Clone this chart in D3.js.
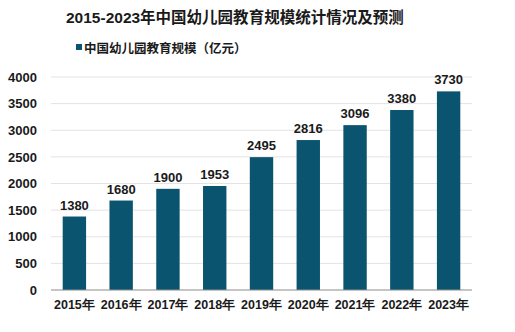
<!DOCTYPE html>
<html>
<head>
<meta charset="utf-8">
<script src="https://cdn.jsdelivr.net/npm/d3@7"></script>
<style>
  html, body { margin: 0; padding: 0; background: #fff; }
  svg { display: block; font-family: "Liberation Sans", Arial, "Noto Sans CJK SC", sans-serif; }
</style>
</head>
<body>
<svg id="chart" width="515" height="332"></svg>
<script>
// Kindergarten education market size, 2015-2023 (100 million yuan)
const years = ["2015年", "2016年", "2017年", "2018年", "2019年", "2020年", "2021年", "2022年", "2023年"];
const scale = [1380, 1680, 1900, 1953, 2495, 2816, 3096, 3380, 3730];
const yTicks = [0, 500, 1000, 1500, 2000, 2500, 3000, 3500, 4000];
const titleText = "2015-2023年中国幼儿园教育规模统计情况及预测";
const seriesName = "中国幼儿园教育规模（亿元）";

const barColor = "#0b5470";
const textColor = "#1a1a1a";

const svg = d3.select("#chart");
const margin = { left: 51, right: 43, top: 77, bottom: 42 };
const W = 515, H = 332;

const x = d3.scaleBand()
  .domain(years)
  .range([margin.left, W - margin.right])
  .paddingInner(0.5)
  .paddingOuter(0.25);

const y = d3.scaleLinear()
  .domain([0, 4000])
  .range([H - margin.bottom, margin.top]);

// Title
svg.append("text")
  .attr("x", 66).attr("y", 23)
  .attr("font-size", 15.5).attr("font-weight", "bold")
  .attr("fill", textColor)
  .text(titleText);

// Legend
svg.append("rect")
  .attr("x", 76).attr("y", 44).attr("width", 6).attr("height", 6)
  .attr("fill", barColor);
svg.append("text")
  .attr("x", 84).attr("y", 52.5)
  .attr("font-size", 12.5).attr("font-weight", "bold")
  .attr("fill", textColor)
  .text(seriesName);

// Gridlines
svg.append("g")
  .selectAll("line")
  .data(yTicks.filter(d => d > 0))
  .join("line")
  .attr("x1", margin.left).attr("x2", W - margin.right)
  .attr("y1", d => y(d)).attr("y2", d => y(d))
  .attr("stroke", "#e3e3e3").attr("stroke-width", 1);

// Y axis labels
const yAxis = svg.append("g")
  .attr("transform", `translate(37,0)`)
  .call(d3.axisLeft(y).tickValues(yTicks).tickFormat(d3.format("d")).tickSize(0).tickPadding(0));
yAxis.select(".domain").remove();
yAxis.selectAll("text")
  .attr("font-size", 13).attr("font-weight", "bold")
  .attr("fill", textColor)
  .attr("font-family", "Liberation Sans, Arial, sans-serif");

// Bars
svg.append("g")
  .selectAll("rect")
  .data(scale)
  .join("rect")
  .attr("x", (d, i) => x(years[i]))
  .attr("width", x.bandwidth())
  .attr("y", d => y(d))
  .attr("height", d => y(0) - y(d))
  .attr("fill", barColor);

// Value labels
svg.append("g")
  .selectAll("text")
  .data(scale)
  .join("text")
  .attr("x", (d, i) => x(years[i]) + x.bandwidth() / 2)
  .attr("y", d => y(d) - 7)
  .attr("text-anchor", "middle")
  .attr("font-size", 13).attr("font-weight", "bold")
  .attr("fill", textColor)
  .text(d => d);

// X axis baseline
svg.append("line")
  .attr("x1", margin.left).attr("x2", W - margin.right)
  .attr("y1", y(0)).attr("y2", y(0))
  .attr("stroke", "#8c8c8c").attr("stroke-width", 1.2);

// X axis labels
const xAxis = svg.append("g")
  .attr("transform", `translate(0,${y(0)})`)
  .call(d3.axisBottom(x).tickSize(0).tickPadding(10));
xAxis.select(".domain").remove();
xAxis.selectAll("text")
  .attr("font-size", 12.5).attr("font-weight", "bold")
  .attr("fill", textColor);
</script>
</body>
</html>
